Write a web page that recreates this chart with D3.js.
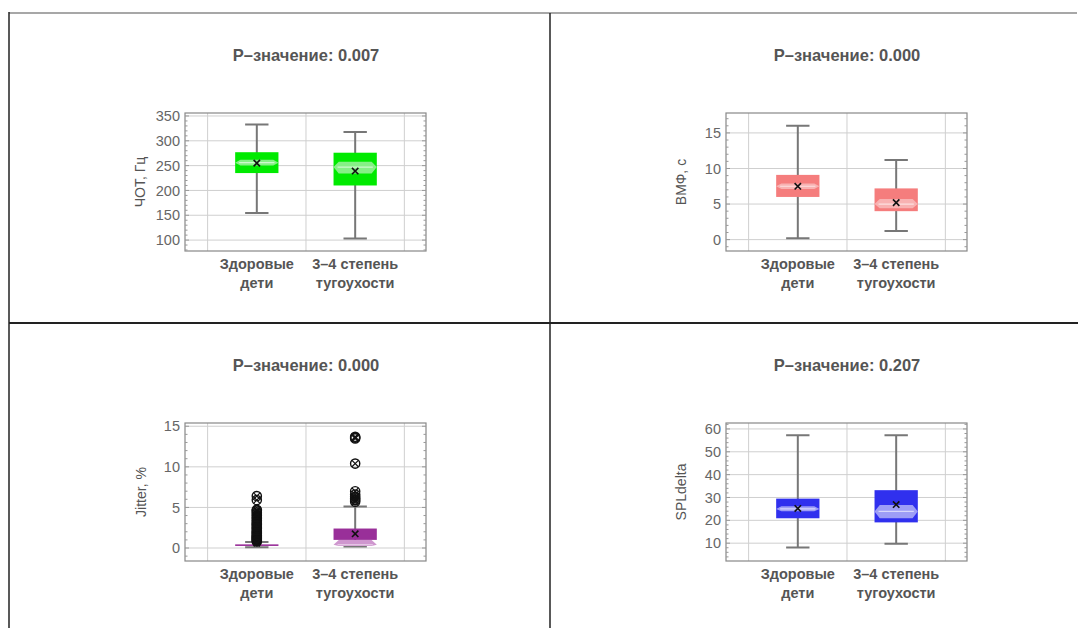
<!DOCTYPE html>
<html>
<head>
<meta charset="utf-8">
<script src="https://cdn.jsdelivr.net/npm/d3@7"></script>
<style>
  body { margin: 0; background: #fff; }
  svg { display: block; font-family: "Liberation Sans", Arial, sans-serif; }
</style>
</head>
<body>
<svg id="chart" width="1078" height="628"></svg>
<script>
// categories on the x axis (two-line labels)
var categories = [["Здоровые", "дети"], ["3–4 степень", "тугоухости"]];

var pValues = ["0.007", "0.000", "0.000", "0.207"];
var yTitles = ["ЧОТ, Гц", "ВМФ, с", "Jitter, %", "SPLdelta"];

// box statistics: lo/hi whiskers, quartiles, median, notch bounds, mean
var chotStats = [
  {lo: 154.5, q1: 235, med: 256, q3: 277, hi: 333, nLo: 250, nHi: 262, mean: 255},
  {lo: 103, q1: 210, med: 247, q3: 276, hi: 317.6, nLo: 234, nHi: 258, mean: 239}
];
var vmfStats = [
  {lo: 0.2, q1: 6.0, med: 7.5, q3: 9.1, hi: 16.0, nLo: 7.1, nHi: 7.9, mean: 7.5},
  {lo: 1.2, q1: 4.0, med: 5.0, q3: 7.2, hi: 11.2, nLo: 4.4, nHi: 5.7, mean: 5.2}
];
var jitterStats = [
  {lo: 0.1, q1: 0.35, med: 0.4, q3: 0.45, hi: 0.75, nLo: 0.38, nHi: 0.42, mean: 0.6},
  {lo: 0.2, q1: 1.0, med: 0.4, q3: 2.4, hi: 5.1, nLo: 0.25, nHi: 1.0, mean: 1.75}
];
var splStats = [
  {lo: 8.1, q1: 20.9, med: 25.0, q3: 29.5, hi: 57.2, nLo: 24.0, nHi: 26.2, mean: 25.2},
  {lo: 9.8, q1: 19.1, med: 23.9, q3: 33.2, hi: 57.2, nLo: 20.9, nHi: 26.7, mean: 26.9}
];

// outliers for Jitter
var jitterOut1 = [0.8, 0.9, 1.0, 1.1, 1.2, 1.3, 1.4, 1.5, 1.6, 1.8, 1.9, 2.0, 2.2, 2.4, 2.5,
                  2.7, 2.9, 3.0, 3.2, 3.4, 3.6, 3.8, 4.0, 4.2, 4.4, 4.6, 4.7, 5.9, 6.4];
var jitterOut2 = [5.7, 5.9, 6.1, 6.3, 6.6, 7.0, 10.4, 13.5, 13.6, 13.7];

var yTicks1 = [100, 150, 200, 250, 300, 350];
var yTicks2 = [0, 5, 10, 15];
var yTicks3 = [0, 5, 10, 15];
var yTicks4 = [10, 20, 30, 40, 50, 60];

var panels = [
  {ox: 0, oy: 0, stats: chotStats, outliers: [[], []], domain: [78, 356], ticks: yTicks1, minor: 10,
   dark: "#00ea00", light: "#86f086"},
  {ox: 541, oy: 0, stats: vmfStats, outliers: [[], []], domain: [-1.6, 17.8], ticks: yTicks2, minor: 1,
   dark: "#f57d7d", light: "#f8b2b2"},
  {ox: 0, oy: 310, stats: jitterStats, outliers: [jitterOut1, jitterOut2], domain: [-1.6, 15.4], ticks: yTicks3, minor: 1,
   dark: "#992f99", light: "#cf97cf"},
  {ox: 541, oy: 310, stats: splStats, outliers: [[], []], domain: [2.2, 62.6], ticks: yTicks4, minor: 2,
   dark: "#3030ee", light: "#9d9df6"}
];

var svg = d3.select("#chart");

// outer grid of the figure
svg.append("line").attr("x1", 9).attr("x2", 1077).attr("y1", 13).attr("y2", 13)
  .attr("stroke", "#8a8a8a").attr("stroke-width", 1.5);
svg.append("line").attr("x1", 9).attr("x2", 9).attr("y1", 12).attr("y2", 628)
  .attr("stroke", "#222").attr("stroke-width", 1.5);
svg.append("line").attr("x1", 550).attr("x2", 550).attr("y1", 13).attr("y2", 628)
  .attr("stroke", "#222").attr("stroke-width", 1.5);
svg.append("line").attr("x1", 9).attr("x2", 1078).attr("y1", 323).attr("y2", 323)
  .attr("stroke", "#222").attr("stroke-width", 1.8);

panels.forEach(function (p, i) {
  var g = svg.append("g").attr("transform", "translate(" + p.ox + "," + p.oy + ")");
  var left = 185, right = 426, top = 113, bottom = 251;

  var x = d3.scaleLinear().domain([0.27, 2.72]).range([left, right]);
  var y = d3.scaleLinear().domain(p.domain).range([bottom, top]);
  var bw = x(1.22) - x(0.78);

  // title
  g.append("text").attr("x", 306).attr("y", 61).attr("text-anchor", "middle")
    .attr("font-size", 16.5).attr("font-weight", "bold").attr("fill", "#555")
    .text("P–значение: " + pValues[i]);

  // grid
  g.selectAll(".hg").data(p.ticks).enter().append("line")
    .attr("x1", left).attr("x2", right)
    .attr("y1", function (d) { return y(d); }).attr("y2", function (d) { return y(d); })
    .attr("stroke", "#cfcfcf").attr("stroke-width", 1);
  g.selectAll(".vg").data([0.5, 1.5, 2.5]).enter().append("line")
    .attr("y1", top).attr("y2", bottom)
    .attr("x1", function (d) { return x(d); }).attr("x2", function (d) { return x(d); })
    .attr("stroke", "#cfcfcf").attr("stroke-width", 1);

  // frame
  g.append("rect").attr("x", left).attr("y", top).attr("width", right - left).attr("height", bottom - top)
    .attr("fill", "none").attr("stroke", "#888").attr("stroke-width", 1.2);

  // minor ticks on left and right edges
  var minorTicks = d3.range(Math.ceil(p.domain[0] / p.minor) * p.minor, p.domain[1], p.minor);
  g.selectAll(".mt").data(minorTicks).enter().append("path")
    .attr("d", function (d) {
      var isMajor = p.ticks.indexOf(Math.round(d * 100) / 100) >= 0;
      var len = isMajor ? 4 : 2.5;
      return "M" + left + "," + y(d) + "h" + len + "M" + right + "," + y(d) + "h" + (-len);
    })
    .attr("stroke", "#999").attr("stroke-width", 1);

  // y axis labels
  var yAxis = d3.axisLeft(y).tickValues(p.ticks).tickSize(0).tickPadding(5);
  var ax = g.append("g").attr("transform", "translate(" + left + ",0)").call(yAxis);
  ax.select(".domain").remove();
  ax.selectAll("text").attr("font-size", 14.5).attr("fill", "#666")
    .attr("font-family", "Liberation Sans, Arial, sans-serif");

  g.append("text")
    .attr("transform", "translate(" + (i === 2 ? 146 : 145) + "," + ((top + bottom) / 2) + ") rotate(-90)")
    .attr("text-anchor", "middle").attr("font-size", 14).attr("fill", "#555")
    .text(yTitles[i]);

  // category labels
  categories.forEach(function (c, k) {
    var t = g.append("text").attr("text-anchor", "middle").attr("font-size", 14.5)
      .attr("font-weight", "bold").attr("fill", "#555");
    t.append("tspan").attr("x", x(k + 1)).attr("y", 269).text(c[0]);
    t.append("tspan").attr("x", x(k + 1)).attr("y", 288).text(c[1]);
  });

  // boxes
  p.stats.forEach(function (s, k) {
    var cx = x(k + 1);
    var L = cx - bw / 2, R = cx + bw / 2;
    var cap = bw * 0.27;

    // whisker and caps
    g.append("line").attr("x1", cx).attr("x2", cx).attr("y1", y(s.hi)).attr("y2", y(s.lo))
      .attr("stroke", "#777").attr("stroke-width", 2);
    g.append("path")
      .attr("d", "M" + (cx - cap) + "," + y(s.hi) + "H" + (cx + cap) + "M" + (cx - cap) + "," + y(s.lo) + "H" + (cx + cap))
      .attr("stroke", "#777").attr("stroke-width", 2);

    // box body
    var h = Math.max(y(s.q1) - y(s.q3), 1.6);
    g.append("rect").attr("x", L).attr("y", y(s.q3)).attr("width", bw).attr("height", h)
      .attr("fill", p.dark);

    // notch region
    var a = bw * 0.12;
    var notch = [[L + a, y(s.nHi)], [R - a, y(s.nHi)], [R, y(s.med)], [R - a, y(s.nLo)],
                 [L + a, y(s.nLo)], [L, y(s.med)]];
    if (y(s.nLo) - y(s.nHi) > 3) {
      g.append("path").attr("d", d3.line()(notch) + "Z").attr("fill", p.light);
      g.append("line").attr("x1", L + 4).attr("x2", R - 4).attr("y1", y(s.med)).attr("y2", y(s.med))
        .attr("stroke", "#fff").attr("stroke-opacity", 0.6).attr("stroke-width", 1.2);
    }

    // outliers
    g.selectAll(".out" + k).data(p.outliers[k]).enter().append("g")
      .attr("transform", function (d) { return "translate(" + cx + "," + y(d) + ")"; })
      .each(function () {
        var o = d3.select(this);
        o.append("circle").attr("r", 4.6).attr("fill", "none").attr("stroke", "#111").attr("stroke-width", 1.4);
        o.append("path").attr("d", "M-3.2,-3.2L3.2,3.2M-3.2,3.2L3.2,-3.2").attr("stroke", "#111").attr("stroke-width", 1.2);
      });

    // mean marker
    g.append("path")
      .attr("d", "M" + (cx - 3.2) + "," + (y(s.mean) - 3.2) + "l6.4,6.4m-6.4,0l6.4,-6.4")
      .attr("stroke", "#111").attr("stroke-width", 1.6);
  });
});
</script>
</body>
</html>
